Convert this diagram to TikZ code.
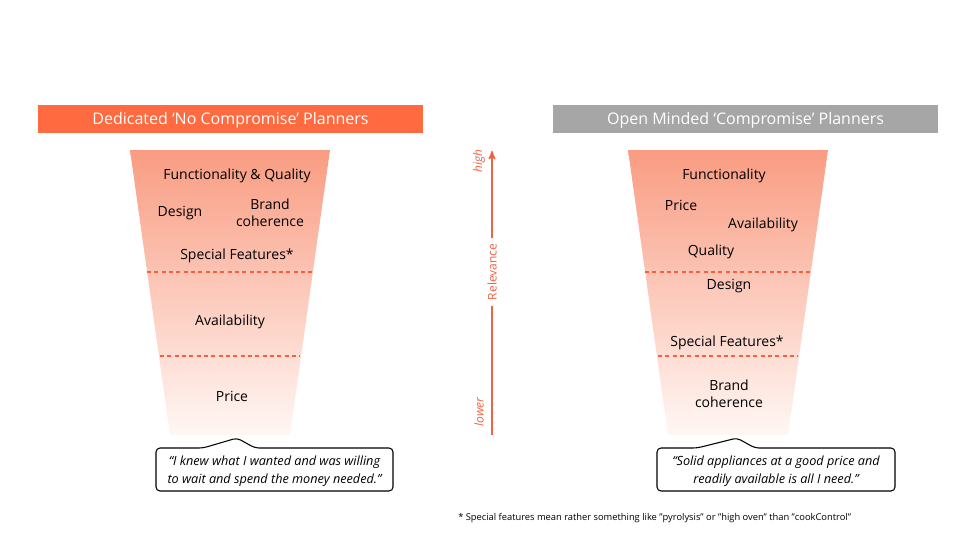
\documentclass[tikz,border=0pt]{standalone}
\usepackage{fontspec}
\setmainfont{Open Sans}
\usetikzlibrary{arrows,positioning,calc}
\definecolor{brandorange}{RGB}{255,106,64}
\definecolor{headgray}{RGB}{166,166,166}
\definecolor{funneltop}{RGB}{249,156,130}
\definecolor{funnelbot}{RGB}{255,247,244}
\definecolor{lineorange}{RGB}{240,98,66}
\tikzset{x=0.75pt, y=-0.75pt, % one unit is one pixel of the slide
        header/.style={ % Coloured title bars
            minimum width=288.75pt, minimum height=21pt, inner sep=0pt,
            text height=8.6pt, text depth=0pt,
            text=white, font=\fontsize{12}{14}\selectfont},
        funnel/.style={ % Trapezoid with fading fill
            top color=funneltop, bottom color=funnelbot},
        divider/.style={ % Dashed split lines
            draw=lineorange, line width=0.8pt, dash pattern=on 3pt off 2.5pt},
        item/.style={ % Criteria inside the funnel
            font=\fontsize{10.5}{12.8}\selectfont, align=center, inner sep=1pt},
        bubble/.style={ % Quote callout
            draw, line width=0.8pt, fill=white, rounded corners=3pt},
        quote/.style={
            font=\fontsize{9.5}{13.5}\selectfont\itshape, align=center},
        axis/.style={
            draw=lineorange, line width=1.2pt, >=stealth'},
        axislabel/.style={
            text=lineorange, font=\fontsize{9}{10}\selectfont, rotate=90}
        }
\begin{document}
\begin{tikzpicture}
    \useasboundingbox (0,0) rectangle (980,551);

    % title bars
    \node[header, fill=brandorange] (headL) at (230.5,119) {Dedicated ‘No Compromise’ Planners};
    \node[header, fill=headgray]    (headR) at (745.5,119) {Open Minded ‘Compromise’ Planners};

    % funnels
    \shade[funnel] (130,150) -- (330,150) -- (290,435) -- (170,435) -- cycle;
    \shade[funnel] (628,150) -- (828,150) -- (788,435) -- (668,435) -- cycle;
    \draw[divider] (147,272) -- (313,272);
    \draw[divider] (160,356) -- (300,356);
    \draw[divider] (645,272) -- (811,272);
    \draw[divider] (658,356) -- (798,356);

    % left funnel
    \node[item] (funcL)    at (237,176) {Functionality \& Quality};
    \node[item] (designL)  at (180,213) {Design};
    \node[item] (brandL)   at (270,213) {Brand\\coherence};
    \node[item] (specialL) at (237,256) {Special Features*};
    \node[item] (availL)   at (230,322) {Availability};
    \node[item] (priceL)   at (232,396) {Price};

    % right funnel
    \node[item] (funcR)    at (724,176) {Functionality};
    \node[item] (priceR)   at (681,205) {Price};
    \node[item] (availR)   at (763,225) {Availability};
    \node[item] (qualR)    at (711,252) {Quality};
    \node[item] (designR)  at (729,286) {Design};
    \node[item] (specialR) at (727,343) {Special Features*};
    \node[item] (brandR)   at (729,394) {Brand\\coherence};

    % relevance axis
    \coordinate (lowend)  at (492,435);
    \coordinate (highend) at (492,151);
    \node[axislabel, inner sep=4pt] (rel) at (492,272) {Relevance};
    \draw[axis] (lowend) -- (rel.west);
    \draw[axis,->] (rel.east) -- (highend);
    \node[axislabel, font=\fontsize{9}{10}\selectfont\itshape] (high)  at (479,161) {high};
    \node[axislabel, font=\fontsize{9}{10}\selectfont\itshape] (lower) at (479,412) {lower};

    % quotes
    \draw[bubble] (156,448) -- (203,448) -- (237,438) -- (255,448) -- (393,448)
        -- (393,491) -- (156,491) -- cycle;
    \node[quote] (quoteL) at (274.5,471) {“I knew what I wanted and was willing\\to wait and spend the money needed.”};
    \draw[bubble] (657,448) -- (697,448) -- (737,438) -- (755,448) -- (895,448)
        -- (895,491) -- (657,491) -- cycle;
    \node[quote] (quoteR) at (776,471) {“Solid appliances at a good price and\\readily available is all I need.”};

    % footnote
    \node[anchor=west, inner sep=0pt, font=\fontsize{7}{8}\selectfont] (note) at (458,518)
        {* Special features mean rather something like "pyrolysis" or "high oven" than "cookControl"};
\end{tikzpicture}
\end{document}
